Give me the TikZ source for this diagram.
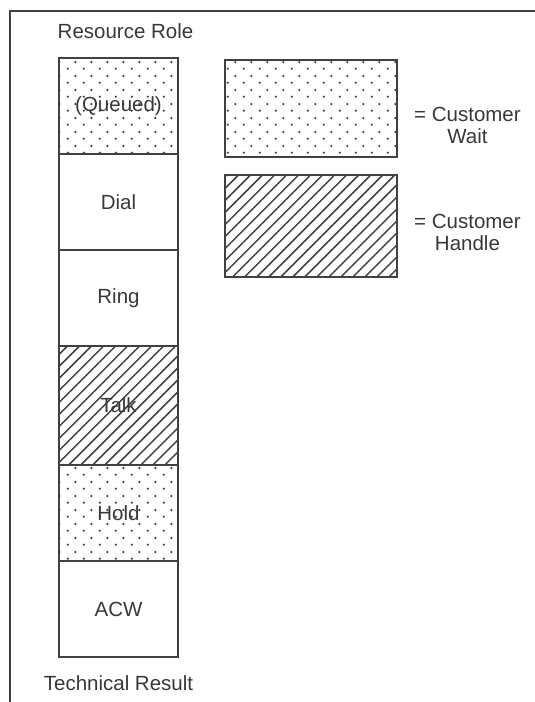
\documentclass[tikz,border=0pt]{standalone}
\usepackage{fontspec}
\setmainfont{Liberation Sans}
\usepackage{tikz}
\usetikzlibrary{positioning,patterns.meta}
\definecolor{FrameInk}{HTML}{404040}
\definecolor{TextInk}{HTML}{383838}
\pgfdeclarepattern{
  name=waitdots,
  type=uncolored,
  bottom left={\pgfpoint{0pt}{0pt}},
  top right={\pgfpoint{16pt}{14pt}},
  tile size={\pgfpoint{16pt}{14pt}},
  code={
    \pgfpathcircle{\pgfpoint{4pt}{3.5pt}}{1.3pt}
    \pgfpathcircle{\pgfpoint{12pt}{10.5pt}}{1.3pt}
    \pgfusepath{fill}
  }
}

\begin{document}
\begin{tikzpicture}[
  x=1pt,y=-1pt,
  font=\fontsize{20.5}{22}\selectfont,
  stage/.style={draw=FrameInk,line width=1.8pt,minimum width=119pt,minimum height=96pt,outer sep=0pt,inner sep=0pt,text=TextInk},
  wait/.style={pattern=waitdots,pattern color=FrameInk},
  handle/.style={pattern={Lines[angle=45,distance=8.5pt,line width=1.5pt]},pattern color=FrameInk},
  legend/.style={draw=FrameInk,line width=1.8pt,minimum width=172pt,minimum height=97pt,outer sep=0pt},
  caption/.style={text=TextInk,inner sep=3pt,align=center},
  frame/.style={draw=FrameInk,line width=1.4pt},
]
\useasboundingbox (0,0) rectangle (535,702);
\draw[frame] (10,702) -- (10,11) -- (535,11);
\node[stage,wait] (queued) at (118.5,106) {(Queued)};
\node[stage,below=0pt of queued] (dial) {Dial};
\node[stage,below=0pt of dial] (ring) {Ring};
\node[stage,handle,minimum height=119pt,below=0pt of ring] (talk) {Talk};
\node[stage,wait,below=0pt of talk] (hold) {Hold};
\node[stage,below=0pt of hold] (acw) {ACW};
\node[caption,above=16pt of queued,xshift=7pt] (role) {Resource Role};
\node[caption,below=15pt of acw] (result) {Technical Result};
\node[legend,wait] (waitkey) at (311,108.5) {};
\node[legend,handle,minimum height=102pt,below=18pt of waitkey] (handlekey) {};
\node[caption,right=14pt of waitkey,yshift=-17pt] (waittext) {= Customer\\Wait};
\node[caption,right=14pt of handlekey,yshift=-6pt] (handletext) {= Customer\\Handle};
\end{tikzpicture}
\end{document}
